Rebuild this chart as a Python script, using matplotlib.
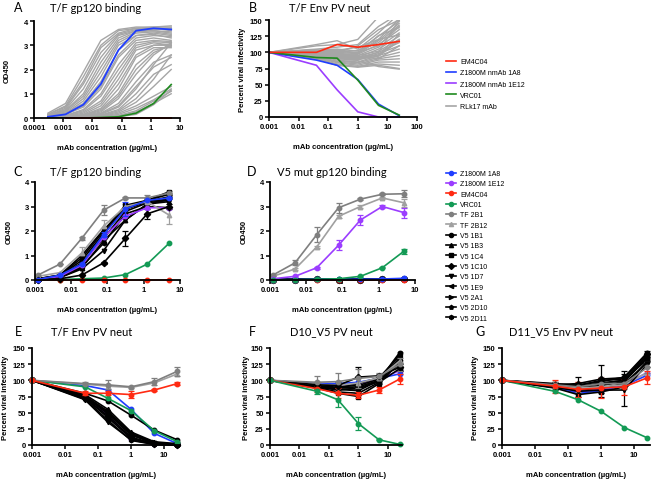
import matplotlib
matplotlib.use('Agg')
import matplotlib.pyplot as plt
from matplotlib.lines import Line2D

plt.rcParams['font.family'] = ['Liberation Sans', 'DejaVu Sans']

W, H = 651, 481

# ---------------- data ----------------
# panel A: binding of RLk17 mAbs and controls to T/F gp120
conc_a = [0.0003, 0.0012, 0.0049, 0.0195, 0.078, 0.3125, 1.25, 5]
a_gray = [
    [0.20, 0.60, 1.90, 3.20, 3.65, 3.75, 3.75, 3.80],
    [0.15, 0.50, 1.70, 3.00, 3.60, 3.70, 3.75, 3.75],
    [0.15, 0.45, 1.50, 2.90, 3.50, 3.70, 3.70, 3.70],
    [0.10, 0.40, 1.40, 2.70, 3.45, 3.65, 3.70, 3.60],
    [0.10, 0.35, 1.20, 2.50, 3.40, 3.60, 3.65, 3.70],
    [0.10, 0.30, 1.00, 2.30, 3.30, 3.60, 3.60, 3.55],
    [0.10, 0.30, 0.90, 2.10, 3.20, 3.55, 3.60, 3.50],
    [0.08, 0.25, 0.80, 1.90, 3.10, 3.50, 3.55, 3.45],
    [0.08, 0.20, 0.70, 1.70, 3.00, 3.40, 3.50, 3.40],
    [0.05, 0.20, 0.60, 1.50, 2.80, 3.40, 3.45, 3.30],
    [0.05, 0.15, 0.50, 1.30, 2.60, 3.30, 3.40, 3.35],
    [0.05, 0.15, 0.45, 1.20, 2.50, 3.20, 3.30, 3.20],
    [0.05, 0.10, 0.35, 1.00, 2.20, 3.10, 3.20, 3.15],
    [0.05, 0.10, 0.30, 0.90, 2.00, 3.00, 3.15, 3.10],
    [0.03, 0.08, 0.25, 0.70, 1.80, 2.90, 3.10, 3.00],
    [0.03, 0.06, 0.20, 0.60, 1.60, 2.80, 3.00, 3.05],
    [0.03, 0.05, 0.15, 0.50, 1.40, 2.60, 3.00, 3.00],
    [0.02, 0.05, 0.12, 0.40, 1.20, 2.50, 2.90, 2.90],
    [0.02, 0.04, 0.10, 0.35, 1.00, 2.20, 2.80, 2.95],
    [0.02, 0.04, 0.10, 0.30, 0.90, 2.00, 2.70, 3.00],
    [0.02, 0.03, 0.08, 0.25, 0.80, 1.80, 2.60, 3.10],
    [0.02, 0.03, 0.07, 0.20, 0.60, 1.50, 2.30, 2.60],
    [0.01, 0.03, 0.06, 0.18, 0.50, 1.30, 2.10, 2.50],
    [0.01, 0.02, 0.05, 0.15, 0.45, 1.20, 2.20, 3.10],
    [0.01, 0.02, 0.05, 0.12, 0.35, 1.00, 1.80, 2.20],
    [0.01, 0.02, 0.04, 0.10, 0.30, 0.80, 1.60, 2.60],
    [0.01, 0.02, 0.03, 0.08, 0.25, 0.65, 1.30, 2.00],
    [0.01, 0.02, 0.03, 0.06, 0.20, 0.50, 0.90, 1.30],
    [0.01, 0.01, 0.02, 0.05, 0.15, 0.40, 0.75, 1.20],
    [0.01, 0.01, 0.02, 0.04, 0.10, 0.30, 0.70, 1.10],
    [0.01, 0.01, 0.02, 0.03, 0.08, 0.25, 0.60, 1.00],
    [0.00, 0.01, 0.01, 0.02, 0.05, 0.15, 0.55, 1.15],
]
a_blue = [0.05, 0.15, 0.55, 1.40, 2.80, 3.60, 3.70, 3.65]
a_green = [0.00, 0.00, 0.00, 0.02, 0.05, 0.20, 0.60, 1.38]
a_red = [0, 0, 0, 0, 0, 0, 0]  # starts at 0.0012

# panel B: neutralization of T/F Env pseudovirus
conc_n = [0.001, 0.04, 0.2, 1, 5, 25]
b_gray = [
    [100, 112, 118, 105, 130, 160],
    [100, 110, 112, 120, 155, 150],
    [100, 105, 108, 112, 140, 160],
    [100, 104, 100, 110, 135, 150],
    [100, 103, 105, 102, 125, 148],
    [100, 102, 100, 98, 118, 145],
    [100, 101, 98, 100, 110, 140],
    [100, 100, 97, 97, 112, 135],
    [100, 99, 96, 95, 108, 130],
    [100, 98, 95, 92, 105, 125],
    [100, 97, 93, 95, 102, 120],
    [100, 96, 92, 90, 100, 115],
    [100, 95, 90, 88, 98, 110],
    [100, 95, 88, 85, 95, 105],
    [100, 94, 86, 84, 92, 100],
    [100, 93, 85, 82, 90, 95],
    [100, 92, 84, 80, 88, 90],
    [100, 91, 82, 78, 85, 85],
    [100, 90, 80, 78, 82, 80],
    [100, 90, 80, 77, 80, 75],
    [100, 92, 86, 87, 78, 74],
    [100, 95, 90, 92, 100, 150],
    [100, 98, 102, 100, 120, 152],
    [100, 100, 104, 98, 126, 138],
    [100, 97, 95, 93, 95, 128],
    [100, 96, 93, 91, 96, 120],
    [100, 94, 90, 89, 94, 118],
    [100, 99, 101, 103, 115, 142],
    [100, 102, 103, 108, 120, 127],
    [100, 96, 96, 94, 90, 110],
]
b_red = [100, 100, 112, 108, 112, 117]
b_blue = [100, 88, 80, 58, 20, 2]
b_green = [100, 92, 91, 57, 18, 3]
b_purple = [100, 80, 42, 8, 0, 0]

# panels C-G: selected mAbs
conc_c = [0.0012, 0.0049, 0.0195, 0.078, 0.3125, 1.25, 5]
names = ['Z1800M 1A8', 'Z1800M 1E12', 'EM4C04', 'VRC01', 'TF 2B1', 'TF 2B12',
         'V5 1B1', 'V5 1B3', 'V5 1C4', 'V5 1C10', 'V5 1D7', 'V5 1E9',
         'V5 2A1', 'V5 2D10', 'V5 2D11']

c_vals = {
    'Z1800M 1A8': [0.02, 0.20, 0.65, 1.85, 2.90, 3.25, 3.35],
    'Z1800M 1E12': [0.02, 0.15, 0.60, 1.75, 2.60, 2.95, 2.95],
    'EM4C04': [0, 0, 0, 0, 0, 0, 0],
    'VRC01': [0.01, 0.02, 0.05, 0.08, 0.22, 0.65, 1.50],
    'TF 2B1': [0.20, 0.65, 1.70, 2.85, 3.35, 3.35, 3.55],
    'TF 2B12': [0.15, 0.30, 1.10, 2.20, 3.00, 3.20, 2.65],
    'V5 1B1': [0.05, 0.15, 0.60, 1.90, 2.95, 3.25, 3.50],
    'V5 1B3': [0.03, 0.10, 0.50, 1.60, 2.45, 3.10, 3.20],
    'V5 1C4': [0.05, 0.20, 0.90, 2.00, 3.05, 3.25, 3.60],
    'V5 1C10': [0.02, 0.05, 0.20, 0.70, 1.70, 2.70, 3.00],
    'V5 1D7': [0.03, 0.10, 0.45, 1.20, 2.45, 3.10, 3.30],
    'V5 1E9': [0.05, 0.20, 1.00, 2.05, 2.90, 3.20, 3.40],
    'V5 2A1': [0.03, 0.15, 0.70, 1.70, 2.80, 3.15, 3.25],
    'V5 2D10': [0.04, 0.18, 0.80, 1.90, 2.90, 3.20, 3.30],
    'V5 2D11': [0.03, 0.12, 0.55, 1.50, 2.70, 3.00, 2.95],
}
c_err = {
    'Z1800M 1A8': [0, 0, 0.05, 0.10, 0.30, 0.10, 0.05],
    'TF 2B1': [0, 0, 0.05, 0.20, 0.05, 0.10, 0.10],
    'TF 2B12': [0, 0, 0.25, 0.25, 0.10, 0.10, 0.35],
    'V5 1C10': [0, 0, 0, 0.05, 0.30, 0.20, 0.10],
}

d_vals = {
    'Z1800M 1A8': [0.02, 0.02, 0.03, 0.03, 0.03, 0.04, 0.07],
    'Z1800M 1E12': [0.05, 0.15, 0.50, 1.42, 2.45, 3.00, 2.75],
    'EM4C04': [0, 0, 0, 0, 0, 0, 0],
    'VRC01': [0.01, 0.01, 0.03, 0.05, 0.15, 0.50, 1.18],
    'TF 2B1': [0.20, 0.70, 1.85, 2.95, 3.30, 3.50, 3.52],
    'TF 2B12': [0.15, 0.45, 1.35, 2.60, 3.00, 3.35, 3.15],
}
d_v5 = [0.02, 0.02, 0.03, 0.02, 0.02, 0.03, 0.04]
d_err = {
    'Z1800M 1E12': [0, 0.03, 0.05, 0.20, 0.20, 0.05, 0.20],
    'VRC01': [0, 0, 0, 0, 0.03, 0.03, 0.10],
    'TF 2B1': [0.05, 0.10, 0.30, 0.20, 0.05, 0.05, 0.15],
    'TF 2B12': [0, 0.05, 0.05, 0.05, 0.05, 0.05, 0.15],
}

e_vals = {
    'Z1800M 1A8': [100, 92, 85, 55, 18, 2],
    'Z1800M 1E12': [100, 75, 45, 10, 1, 0],
    'EM4C04': [100, 80, 80, 78, 85, 95],
    'VRC01': [100, 90, 72, 53, 22, 5],
    'TF 2B1': [100, 95, 93, 90, 98, 114],
    'TF 2B12': [100, 94, 91, 89, 96, 110],
    'V5 1B1': [100, 80, 68, 46, 23, 8],
    'V5 1B3': [100, 78, 55, 20, 5, 2],
    'V5 1C4': [100, 75, 50, 17, 3, 1],
    'V5 1C10': [100, 72, 45, 12, 2, 0],
    'V5 1D7': [100, 70, 35, 8, 1, 0],
    'V5 1E9': [100, 74, 48, 15, 3, 1],
    'V5 2A1': [100, 76, 52, 18, 4, 1],
    'V5 2D10': [100, 73, 42, 10, 2, 0],
    'V5 2D11': [100, 71, 38, 7, 1, 0],
}
e_err = {
    'EM4C04': [0, 3, 3, 5, 2, 2],
    'TF 2B1': [0, 2, 7, 2, 5, 7],
}

f_vals = {
    'Z1800M 1A8': [100, 95, 95, 97, 103, 110],
    'Z1800M 1E12': [100, 93, 92, 95, 102, 115],
    'EM4C04': [100, 87, 80, 77, 85, 102],
    'VRC01': [100, 83, 70, 33, 8, 1],
    'TF 2B1': [100, 97, 98, 103, 106, 125],
    'TF 2B12': [100, 94, 92, 96, 104, 130],
    'V5 1B1': [100, 92, 88, 90, 100, 143],
    'V5 1B3': [100, 90, 85, 88, 98, 135],
    'V5 1C4': [100, 88, 80, 75, 95, 128],
    'V5 1C10': [100, 93, 92, 105, 107, 120],
    'V5 1D7': [100, 91, 86, 84, 100, 140],
    'V5 1E9': [100, 89, 82, 80, 97, 118],
    'V5 2A1': [100, 94, 90, 92, 102, 132],
    'V5 2D10': [100, 90, 86, 87, 99, 125],
    'V5 2D11': [100, 92, 89, 95, 104, 138],
}
f_err = {
    'EM4C04': [0, 5, 8, 5, 5, 8],
    'VRC01': [0, 4, 12, 10, 1, 0],
    'TF 2B1': [0, 10, 14, 15, 5, 10],
    'V5 1C10': [0, 5, 5, 15, 3, 5],
}

g_vals = {
    'Z1800M 1A8': [100, 89, 80, 84, 92, 108],
    'Z1800M 1E12': [100, 90, 82, 86, 94, 112],
    'EM4C04': [100, 91, 86, 88, 90, 104],
    'VRC01': [100, 83, 70, 52, 27, 11],
    'TF 2B1': [100, 93, 90, 95, 95, 120],
    'TF 2B12': [100, 92, 88, 90, 93, 112],
    'V5 1B1': [100, 94, 93, 98, 105, 143],
    'V5 1B3': [100, 91, 90, 95, 100, 138],
    'V5 1C4': [100, 88, 78, 82, 90, 130],
    'V5 1C10': [100, 93, 95, 102, 104, 141],
    'V5 1D7': [100, 90, 83, 85, 85, 125],
    'V5 1E9': [100, 92, 88, 92, 98, 135],
    'V5 2A1': [100, 95, 92, 100, 102, 132],
    'V5 2D10': [100, 89, 85, 88, 95, 128],
    'V5 2D11': [100, 93, 90, 96, 100, 139],
}
g_err = {
    'EM4C04': [0, 10, 12, 15, 12, 10],
    'TF 2B1': [0, 5, 8, 10, 8, 8],
    'V5 1C10': [0, 5, 10, 22, 10, 5],
    'V5 1D7': [0, 5, 8, 10, 25, 5],
}

# ---------------- styles ----------------
BLUE = '#1f3dff'
PURPLE = '#9b3dff'
RED = '#ff2a12'
GREEN_AB = '#1f8a1f'
GREEN = '#139a55'
GRAY_LINE = '#a6a6a6'

style = {
    'Z1800M 1A8': (BLUE, 'o'),
    'Z1800M 1E12': (PURPLE, 'o'),
    'EM4C04': (RED, 'o'),
    'VRC01': (GREEN, 'o'),
    'TF 2B1': ('#7f7f7f', 'o'),
    'TF 2B12': ('#a0a0a0', '^'),
    'V5 1B1': ('black', 'o'),
    'V5 1B3': ('black', '^'),
    'V5 1C4': ('black', 's'),
    'V5 1C10': ('black', 'D'),
    'V5 1D7': ('black', 'v'),
    'V5 1E9': ('black', '<'),
    'V5 2A1': ('black', '>'),
    'V5 2D10': ('black', 'p'),
    'V5 2D11': ('black', 'h'),
}

fig = plt.figure(figsize=(W / 100, H / 100), dpi=100)


def add_ax(l, r, t, b):
    return fig.add_axes([l / W, 1 - b / H, (r - l) / W, (b - t) / H])


def decorate(ax, xlim, xticks, xlabels, ylim, yticks, ylabel, title, letter, tx, lx, ty):
    ax.set_xscale('log')
    ax.set_xlim(xlim)
    ax.set_ylim(ylim)
    ax.set_xticks(xticks)
    ax.set_xticklabels(xlabels)
    ax.set_yticks(yticks)
    ax.minorticks_off()
    for s in ['top', 'right']:
        ax.spines[s].set_visible(False)
    for s in ['left', 'bottom']:
        ax.spines[s].set_linewidth(1.3)
    ax.tick_params(direction='out', length=3, width=1.1, labelsize=5.5, pad=1.5)
    for lab in ax.get_xticklabels() + ax.get_yticklabels():
        lab.set_fontweight('bold')
    ax.set_xlabel('mAb concentration (µg/mL)', fontsize=5.5, fontweight='bold')
    ax.xaxis.set_label_coords(0.5, -0.30)
    ax.xaxis.label.set_va('center')
    ax.set_ylabel(ylabel, fontsize=5.5, fontweight='bold')
    ax.yaxis.label.set_va('center')
    ax.yaxis.set_label_coords(-0.18, 0.5)
    fig.text(tx / W, 1 - ty / H, title, fontsize=8, family='Lato', ha='center', va='center')
    fig.text(lx / W, 1 - ty / H, letter, fontsize=9, family='Lato', ha='center', va='center')


def plot_series(ax, x, y, name, err=None, ms=3.2):
    color, marker = style[name]
    if err is not None:
        ax.errorbar(x, y, yerr=err, color=color, marker=marker, ms=ms, lw=1.2,
                    elinewidth=0.9, capsize=2, capthick=0.9, clip_on=False)
    else:
        ax.plot(x, y, color=color, marker=marker, ms=ms, lw=1.2, clip_on=False)


bind_ticks = [0.001, 0.01, 0.1, 1, 10]
bind_labels = ['0.001', '0.01', '0.1', '1', '10']
neut_ticks = [0.001, 0.01, 0.1, 1, 10]

# ---- A ----
axA = add_ax(34, 180, 22, 119)
for g in a_gray:
    axA.plot(conc_a, g, color=GRAY_LINE, lw=1.0)
axA.plot(conc_a, a_green, color=GREEN_AB, lw=1.2)
axA.plot(conc_a[1:], a_red, color=RED, lw=1.4, clip_on=False)
axA.plot(conc_a, a_blue, color=BLUE, lw=1.3)
decorate(axA, (0.0001, 10), [0.0001] + bind_ticks, ['0.0001'] + bind_labels,
         (0, 4), [0, 1, 2, 3, 4], 'OD450', 'T/F gp120 binding', 'A', 96, 18, 8)

# ---- B ----
axB = add_ax(269, 417, 21, 118)
for g in b_gray:
    axB.plot(conc_n, g, color=GRAY_LINE, lw=1.0)
axB.plot(conc_n, b_purple, color=PURPLE, lw=1.2, clip_on=False)
axB.plot(conc_n, b_blue, color=BLUE, lw=1.2)
axB.plot(conc_n, b_green, color=GREEN_AB, lw=1.2)
axB.plot(conc_n, b_red, color=RED, lw=1.2)
decorate(axB, (0.001, 100), [0.001, 0.01, 0.1, 1, 10, 100],
         ['0.001', '0.01', '0.1', '1', '10', '100'],
         (0, 150), [0, 25, 50, 75, 100, 125, 150], 'Percent viral infectivity',
         'T/F Env PV neut', 'B', 330, 253, 8)

legB = [Line2D([], [], color=RED, lw=1.2), Line2D([], [], color=BLUE, lw=1.2),
        Line2D([], [], color=PURPLE, lw=1.2), Line2D([], [], color=GREEN_AB, lw=1.2),
        Line2D([], [], color=GRAY_LINE, lw=1.2)]
fig.legend(legB, ['EM4C04', 'Z1800M nmAb 1A8', 'Z1800M nmAb 1E12', 'VRC01', 'RLk17 mAb'],
           loc='upper left', bbox_to_anchor=(446 / W, 1 - 59 / H), frameon=False,
           fontsize=5, handlelength=1.4, labelspacing=0.62, handletextpad=0.6,
           borderpad=0, borderaxespad=0)

# ---- C ----
axC = add_ax(35, 180, 183, 281)
order_c = ['TF 2B12', 'TF 2B1', 'V5 1B1', 'V5 1B3', 'V5 1C4', 'V5 1C10', 'V5 1D7',
           'V5 1E9', 'V5 2A1', 'V5 2D10', 'V5 2D11', 'Z1800M 1E12', 'VRC01',
           'EM4C04', 'Z1800M 1A8']
for n in order_c:
    plot_series(axC, conc_c, c_vals[n], n, c_err.get(n))
decorate(axC, (0.001, 10), bind_ticks, bind_labels, (0, 4), [0, 1, 2, 3, 4],
         'OD450', 'T/F gp120 binding', 'C', 96, 18, 172)

# ---- D ----
axD = add_ax(270, 415, 183, 281)
for n in names[6:]:
    plot_series(axD, conc_c, d_v5, n)
for n in ['TF 2B12', 'TF 2B1', 'Z1800M 1E12', 'VRC01', 'EM4C04', 'Z1800M 1A8']:
    plot_series(axD, conc_c, d_vals[n], n, d_err.get(n))
decorate(axD, (0.001, 10), bind_ticks, bind_labels, (0, 4), [0, 1, 2, 3, 4],
         'OD450', 'V5 mut gp120 binding', 'D', 332, 252, 172)

legCD = [Line2D([], [], color=style[n][0], marker=style[n][1], ms=3, lw=1.2) for n in names]
fig.legend(legCD, names, loc='upper left', bbox_to_anchor=(446 / W, 1 - 171 / H),
           frameon=False, fontsize=5, handlelength=1.4, labelspacing=0.48,
           handletextpad=0.6, borderpad=0, borderaxespad=0)

# ---- E, F, G ----
order_n = ['Z1800M 1E12', 'Z1800M 1A8', 'V5 1B1', 'V5 1B3', 'V5 1C4', 'V5 1C10',
           'V5 1D7', 'V5 1E9', 'V5 2A1', 'V5 2D10', 'V5 2D11', 'TF 2B12', 'TF 2B1',
           'EM4C04', 'VRC01']
panels = [
    (32, 180, 'T/F Env PV neut', 'E', 92, 18, e_vals, e_err),
    (270, 402, 'D10_V5 PV neut', 'F', 331, 252, f_vals, f_err),
    (502, 650, 'D11_V5 Env PV neut', 'G', 561, 480, g_vals, g_err),
]
for l, r, title, letter, tx, lx, vals, errs in panels:
    ax = add_ax(l, r, 349, 446)
    for n in order_n:
        plot_series(ax, conc_n, vals[n], n, errs.get(n))
    decorate(ax, (0.001, 30), neut_ticks, ['0.001', '0.01', '0.1', '1', '10'],
             (0, 150), [0, 25, 50, 75, 100, 125, 150], 'Percent viral infectivity',
             title, letter, tx, lx, 332)

fig.savefig('out.png', dpi=100)
